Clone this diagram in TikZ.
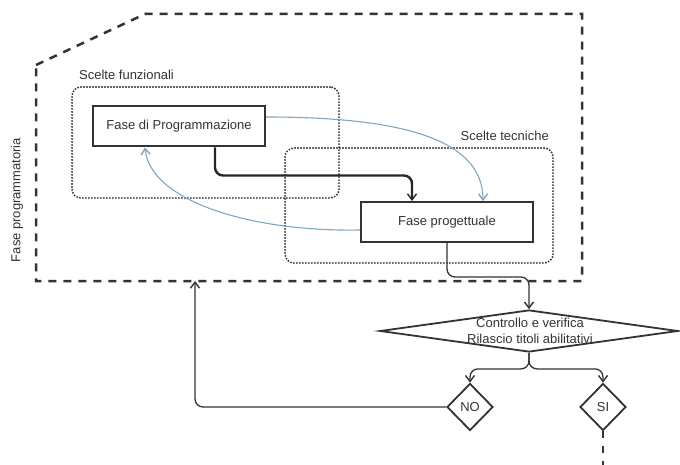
\documentclass[tikz,border=0pt]{standalone}
\usepackage{fontspec}
\setmainfont{Liberation Sans}
\usetikzlibrary{arrows.meta,shapes.geometric,calc}
\definecolor{ink}{HTML}{333333}
\definecolor{bluecurve}{HTML}{7FA6BE}
\tikzset{
  opentip/.style={-{Straight Barb[length=6pt,width=9pt,line width=1.4pt]}},
  procbox/.style={draw=ink,line width=2pt,rectangle,minimum width=172,minimum height=40,inner sep=0,font=\fontsize{13}{15}\selectfont,text=ink},
  dotbox/.style={draw=ink,line width=2.1pt,line cap=round,dash pattern=on 0pt off 3pt,rounded corners=9,rectangle,inner sep=0},
  outerline/.style={draw=ink,line width=2.5pt,dash pattern=on 8pt off 7pt},
  lbl/.style={font=\fontsize{13}{15}\selectfont,text=ink,inner sep=0},
  decision/.style={draw=ink,line width=1.8pt,diamond,inner sep=0},
  flow/.style={draw=ink,line width=1.3pt,rounded corners=8},
  bold flow/.style={draw=black!85,line width=2.4pt,rounded corners=8},
  back/.style={draw=bluecurve,line width=1.1pt},
}
\begin{document}
\begin{tikzpicture}[x=1pt,y=-1pt]
\useasboundingbox (0,0) rectangle (680,465);
% outer dashed region
\draw[outerline] (36,65) -- (145,14) -- (582,14) -- (582,281) -- (36,281) -- cycle;
\node[lbl,rotate=90] (fasep) at (17,200) {Fase programmatoria};
\coordinate (fb) at (195,281);
% dotted groups
\node[dotbox,minimum width=267,minimum height=111] (funz) at (205.5,142.5) {};
\node[lbl,anchor=west] (funzl) at (79,75) {Scelte funzionali};
\node[dotbox,minimum width=268,minimum height=115] (tecn) at (419,205.5) {};
\node[lbl,anchor=east] (tecnl) at (549,136) {Scelte tecniche};
% process boxes
\node[procbox,fill=white] (prog) at (179,126.5) {Fase di Programmazione};
\node[procbox,fill=white] (progett) at (447,222) {Fase progettuale};
% decision diamonds
\node[decision,minimum width=298,minimum height=42] (ctrl) at (529,331) {};
\node[lbl,align=center,font=\fontsize{13}{15.5}\selectfont] (ctrlt) at (530,331) {Controllo e verifica\\Rilascio titoli abilitativi};
\node[decision,minimum width=46,minimum height=47,lbl] (no) at (470,407) {NO};
\node[decision,minimum width=46,minimum height=47,lbl] (si) at (603,407) {SI};
\coordinate (send) at (603,465);
% connectors
\draw[bold flow,opentip] ([xshift=36]prog.south) -- ++(0,28) -| ([xshift=-35]progett.north);
\draw[back,opentip] ([yshift=9.5]prog.east) .. controls +(135,0) and +(0,-62) .. ([xshift=36]progett.north);
\draw[back,opentip] ([yshift=-8]progett.west) .. controls +(-111,2) and +(5,53) .. ([xshift=-34]prog.south);
\draw[flow,opentip] (progett.south) -- ++(0,34) -| (ctrl.north);
\draw[flow,opentip] (ctrl.south) -- ++(0,16) -| (no.north);
\draw[flow,opentip] (ctrl.south) -- ++(0,16) -| (si.north);
\draw[flow,opentip] (no.west) -| (fb);
\draw[draw=ink,line width=1.8pt,dash pattern=on 7pt off 8pt] (si.south) -- (send);
\end{tikzpicture}
\end{document}
